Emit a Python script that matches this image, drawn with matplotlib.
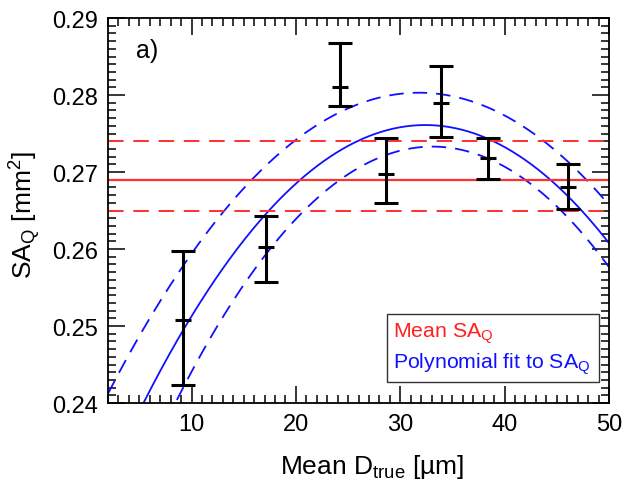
import matplotlib
matplotlib.use("Agg")
import matplotlib.pyplot as plt
import numpy as np
from matplotlib.ticker import MultipleLocator, FormatStrFormatter
from matplotlib.patches import Rectangle

plt.rcParams['font.family'] = ['Liberation Sans', 'DejaVu Sans']
plt.rcParams['mathtext.default'] = 'regular'

# data
d_true = [9.2, 17.1, 24.25, 28.66, 33.9, 38.43, 46.1]
saq = [0.2508, 0.2602, 0.2811, 0.2697, 0.2789, 0.2718, 0.2680]
saq_hi = [0.2598, 0.2643, 0.2868, 0.2744, 0.2838, 0.2744, 0.2710]
saq_lo = [0.2424, 0.2557, 0.2786, 0.2660, 0.2745, 0.2691, 0.2652]

mean_saq = 0.2690
mean_hi = 0.2740
mean_lo = 0.2650

# polynomial fit (vertex form: peak x, peak y, curvature)
fit_vertex = (32.4, 0.2761, 4.95e-5)
fit_upper_vertex = (31.8, 0.2803, 4.4e-5)
fit_lower_vertex = (33.1, 0.2733, 5.48e-5)

fig = plt.figure(figsize=(6.31, 4.85), dpi=100)
ax = fig.add_axes([0.1712, 0.167, 0.9651 - 0.1712, 0.9608 - 0.167])

xs = np.linspace(2, 50, 400)
def quad(v):
    x0, y0, a = v
    return y0 - a * (xs - x0) ** 2

ax.plot(xs, quad(fit_vertex), color='#1010ff', lw=1.3, zorder=2)
ax.plot(xs, quad(fit_upper_vertex), color='#1010ff', lw=1.3, dashes=(8, 5), zorder=2)
ax.plot(xs, quad(fit_lower_vertex), color='#1010ff', lw=1.3, dashes=(8, 5), zorder=2)

ax.axhline(mean_saq, color='#ff3030', lw=1.6, zorder=2)
ax.axhline(mean_hi, color='#ff3030', lw=1.4, dashes=(8, 5), zorder=2)
ax.axhline(mean_lo, color='#ff3030', lw=1.4, dashes=(8, 5), zorder=2)

y = np.array(saq)
yerr = [y - np.array(saq_lo), np.array(saq_hi) - y]
ax.errorbar(d_true, saq, yerr=yerr, fmt='_', color='black', ms=11.5, mew=2.2,
            elinewidth=2.2, capsize=8.3, capthick=2.2, zorder=3)

ax.set_xlim(2, 50)
ax.set_ylim(0.24, 0.29)
ax.xaxis.set_major_locator(MultipleLocator(10))
ax.xaxis.set_minor_locator(MultipleLocator(1))
ax.yaxis.set_major_locator(MultipleLocator(0.01))
ax.yaxis.set_minor_locator(MultipleLocator(0.001))
ax.yaxis.set_major_formatter(FormatStrFormatter('%.2f'))
ax.tick_params(which='both', direction='in', top=True, right=True, color='black',
               labelsize=17)
ax.tick_params(which='major', length=12, width=1.1, pad=7)
ax.tick_params(which='minor', length=6, width=1.1)
for s in ax.spines.values():
    s.set_linewidth(1.3)

ax.set_xlabel('Mean D$_{true}$ [µm]', fontsize=19)
ax.set_ylabel('SA$_{Q}$ [mm$^{2}$]', fontsize=19)
ax.xaxis.set_label_coords(0.527, -0.128)
ax.yaxis.set_label_coords(-0.13, 0.49)

ax.text(0.055, 0.9, 'a)', transform=ax.transAxes, fontsize=18, ha='left', va='baseline')

# legend box
x0p = (387.3 - 108) / 501
x1p = (599 - 108) / 501
y0p = (404 - 382.7) / 385
y1p = (404 - 315) / 385
ax.add_patch(Rectangle((x0p, y0p), x1p - x0p, y1p - y0p, transform=ax.transAxes,
                       fill=True, facecolor='white', edgecolor='#333333', lw=1.0, zorder=4))
ax.text(x0p + 0.012, (404 - 338) / 385, 'Mean SA$_{Q}$', color='#ff2020',
        transform=ax.transAxes, fontsize=15.3, va='baseline', zorder=5)
ax.text(x0p + 0.012, (404 - 369) / 385, 'Polynomial fit to SA$_{Q}$', color='#1010ff',
        transform=ax.transAxes, fontsize=15.3, va='baseline', zorder=5)

fig.savefig('out.png', dpi=100)
